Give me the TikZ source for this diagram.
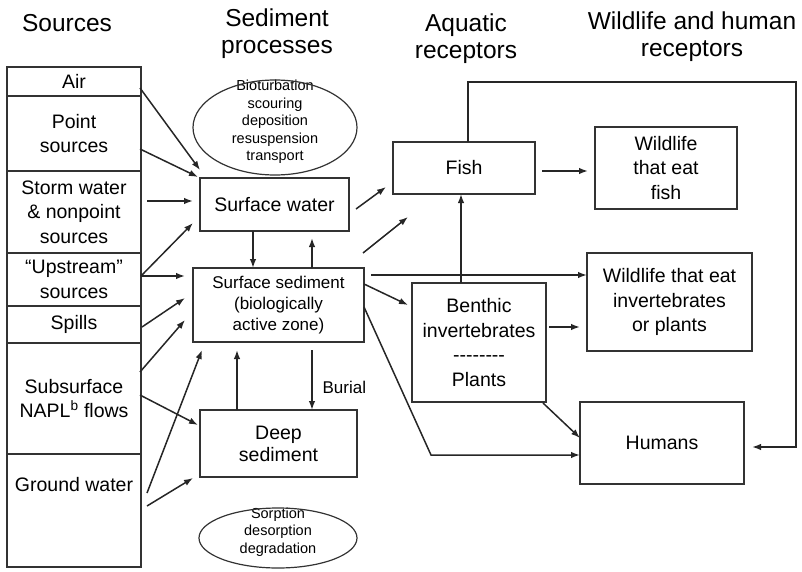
\documentclass[tikz,border=0pt]{standalone}
\usepackage{fontspec}
\setmainfont{Liberation Sans}
\usetikzlibrary{calc}
\usetikzlibrary{arrows.meta}

\newcommand{\headfont}{\fontsize{24.5}{27}\selectfont}
\newcommand{\boxfont}{\fontsize{19.5}{24.5}\selectfont}
\newcommand{\deepfont}{\fontsize{19.5}{22}\selectfont}
\newcommand{\sedfont}{\fontsize{17}{20.7}\selectfont}
\newcommand{\ovalfont}{\fontsize{14.5}{17.5}\selectfont}
\newcommand{\dashrow}{-\kern0pt-\kern0pt-\kern0pt-\kern0pt-\kern0pt-\kern0pt-\kern0pt-}

\tikzset{
  flowbox/.style={draw=black!80, line width=1.2pt, inner sep=0pt, outer sep=0pt, align=center, font=\boxfont},
  srcbox/.style={flowbox, minimum width=134pt},
  ovalline/.style={draw=black!80, line width=1.2pt},
  flow/.style={draw=black!85, line width=1.5pt, -{Latex[length=9pt,width=6.5pt]}},
  head/.style={align=center, font=\headfont}
}

\begin{document}
\begin{tikzpicture}[x=1pt, y=-1pt]
\useasboundingbox (0,0) rectangle (802,572);

%Column headers
\node[head] (hsrc) at (67,23) {Sources};
\node[head] (hsed) at (277,34) {Sediment\\processes};
\node[head] (haqu) at (466,39) {Aquatic\\receptors};
\node[head] (hwild) at (692,37) {Wildlife and human\\receptors};

%Sources column (stacked boxes)
\node[srcbox, minimum height=29pt] (air) at (74,81.5) {Air};
\node[srcbox, minimum height=75pt] (point) at (74,133.5) {Point\\sources};
\node[srcbox, minimum height=82pt] (storm) at (74,212) {Storm water\\\& nonpoint\\sources};
\node[srcbox, minimum height=53pt] (upstream) at (74,279.5) {``Upstream''\\sources};
\node[srcbox, minimum height=37pt] (spills) at (74,324.5) {Spills};
\node[srcbox, minimum height=111pt] (subsurf) at (74,398.5) {Subsurface\\NAPL\textsuperscript{b} flows};
\node[srcbox, minimum height=113pt] (ground) at (74,510.5) {};
\node[font=\boxfont] (groundtxt) at ($(ground.north)+(0,31)$) {Ground water};

%Sediment processes
\node[font=\ovalfont, align=center] (bioproc) at (275,122) {Bioturbation\\scouring\\deposition\\resuspension\\transport};
\draw[ovalline] ($(bioproc)+(0,5.5)$) ellipse [x radius=82pt, y radius=47.5pt];
\node[flowbox, minimum width=149pt, minimum height=53pt] (sw) at (274.5,204.5) {Surface water};
\node[flowbox, font=\sedfont, minimum width=171pt, minimum height=74pt] (ss) at (278.5,305) {Surface sediment\\(biologically\\active zone)};
\node[flowbox, font=\deepfont, minimum width=157pt, minimum height=67pt] (deep) at (278.5,443.5) {Deep\\sediment};
\node[font=\ovalfont, align=center] (sorb) at (278,532) {Sorption\\desorption\\degradation};
\draw[ovalline] ($(sorb)+(0,6)$) ellipse [x radius=79pt, y radius=30pt];

%Aquatic receptors
\node[flowbox, minimum width=142pt, minimum height=52pt] (fish) at (464,168) {Fish};
\node[flowbox, minimum width=134pt, minimum height=119pt] (benthic) at (479,342.5) {Benthic\\invertebrates\\\dashrow\\Plants};

%Wildlife and human receptors
\node[flowbox, minimum width=142pt, minimum height=82pt] (wlf) at (666,168) {Wildlife\\that eat\\fish};
\node[flowbox, minimum width=165pt, minimum height=98pt] (wli) at (669.5,302) {Wildlife that eat\\invertebrates\\or plants};
\node[flowbox, minimum width=164pt, minimum height=82pt] (humans) at (662,443) {Humans};

%Sources into the sediment boxes
\draw[flow] ($(air.east)+(-1,6.5)$) -- ($(sw.north west)+(0,-8)$);
\draw[flow] ($(point.east)+(-1,15.5)$) -- ($(sw.north west)+(-2,-1)$);
\draw[flow] ($(storm.east)+(6,-11)$) -- ($(sw.west)+(-7,-3.5)$);
\draw[flow] ($(upstream.east)+(0,-3.5)$) -- ($(sw.south west)+(-7,-8)$);
\draw[flow] ($(upstream.east)+(0,-3.5)$) -- ($(ss.north west)+(-8,8)$);
\draw[flow] ($(spills.east)+(1,2.5)$) -- ($(ss.west)+(-8,-7)$);
\draw[flow] ($(subsurf.east)+(-1,-26.5)$) -- ($(ss.south west)+(-8,-22)$);
\draw[flow] ($(subsurf.east)+(-1,-3.5)$) -- ($(deep.west)+(-2,-18.5)$);
\draw[flow] ($(ground.east)+(6,-17.5)$) -- ($(ss.south west)+(9,8)$);
\draw[flow] ($(ground.east)+(6,-4.5)$) -- ($(deep.south west)+(-7,1)$);

%Exchanges between water and sediment
\draw[flow] ($(sw.south west)+(53,0)$) -- ($(ss.north west)+(60,0)$);
\draw[flow] ($(ss.north west)+(119,0)$) -- ($(sw.south west)+(112,7)$);
\draw[flow] ($(deep.north west)+(37,0)$) -- ($(ss.south west)+(44,8)$);
\draw[flow] ($(ss.south west)+(119,8)$) -- ($(deep.north west)+(112,0)$)
  node[pos=0.63, right, xshift=6.5pt, font=\sedfont] {Burial};

%Exposure of receptors
\draw[flow] ($(sw.east)+(7,4.5)$) -- ($(fish.south west)+(-7,-7)$);
\draw[flow] ($(ss.north east)+(-1,-15)$) -- ($(fish.south west)+(15,23)$);
\draw[flow] ($(ss.north east)+(7,7)$) -- ($(wli.west)+(0,-27)$);
\draw[flow] ($(ss.north east)+(0,16)$) -- ($(benthic.north west)+(-4,22)$);
\draw[flow] ($(ss.east)+(0,2)$) -- ++(67,148) -- ($(humans.west)+(0,12)$);
\draw[flow] ($(benthic.north west)+(49,0)$) -- ($(fish.south west)+(68,0)$);
\draw[flow] ($(benthic.south east)+(-3,1)$) -- ($(humans.west)+(0,-5)$);
\draw[flow] ($(benthic.east)+(3,-15.5)$) -- ($(wli.west)+(-7,25)$);
\draw[flow] ($(fish.east)+(7,3)$) -- ($(wlf.west)+(-7,3)$);
\draw[flow] ($(fish.north west)+(75,0)$) -- ++(0,-60) -- ++(328,0) -- ++(0,365) -- ($(humans.east)+(8,4)$);

\end{tikzpicture}
\end{document}
